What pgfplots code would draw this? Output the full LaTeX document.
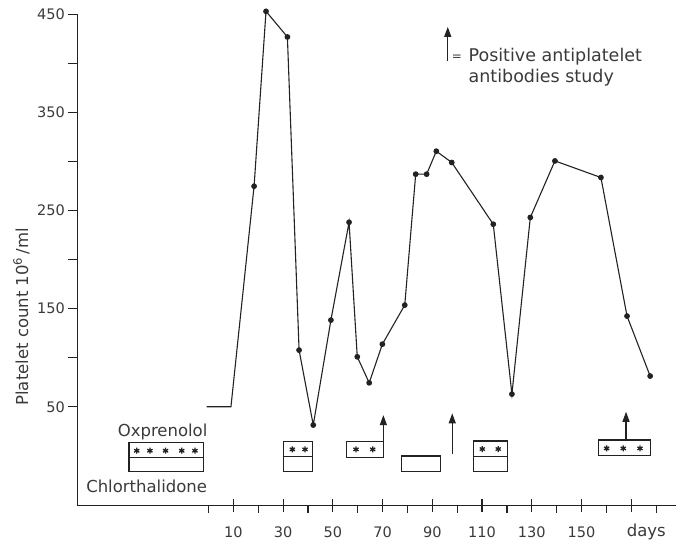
\documentclass[border=0pt]{standalone}
\usepackage{fontspec}
\setmainfont{DejaVu Sans}
\usepackage{pgfplots}
\pgfplotsset{compat=1.18}
\usetikzlibrary{arrows.meta}

\definecolor{ink}{HTML}{222222}
\definecolor{txt}{HTML}{3A3A3A}

\newcommand{\txtfont}{\fontsize{16.5}{19}\selectfont}

\begin{document}
\begin{tikzpicture}[x=1pt,y=1pt]
\useasboundingbox (0,0) rectangle (676,545);
\pgfplotsset{
  base/.style={
    at={(77.3pt,39.3pt)}, anchor=south west,
    scale only axis, width=598.7pt, height=491.7pt,
    xmin=-52.8, xmax=188, ymin=-50.8, ymax=450.2,
    clip=false,
    axis line style={draw=none},
    tick style={ink, line width=1.2pt},
    /pgf/number format/assume math mode=true,
    tick label style={font=\fontsize{14.5}{17}\selectfont, text=txt},
  }
}

% x axis, long ticks across the line at 10,30,...
\begin{axis}[base,
  ytick=\empty, xtick pos=left,
  xtick={10,30,...,150},
  xticklabels={10,30,50,70,90,110,130,150},
  extra x ticks={170},
  extra x tick labels={\hspace*{30pt}days},
  extra x tick style={xticklabel style={font=\txtfont, yshift=3pt}},
  tick align=center, major tick length=13pt,
  xticklabel style={yshift=-11pt},
]
\draw[ink, line width=1.1pt] (rel axis cs:0,0) -- (rel axis cs:1,0);
\end{axis}

% short ticks below the line at 0,20,...
\begin{axis}[base,
  ytick=\empty, xtick pos=left,
  xtick={0,20,...,180}, xticklabels={},
  tick align=outside, major tick length=7pt,
]
\end{axis}

% y axis ticks
\begin{axis}[base,
  xtick=\empty, ytick pos=left,
  ytick={50,100,...,450},
  yticklabels={50,,150,,250,,350,,450},
  tick align=outside, major tick length=9pt,
]
\draw[ink, line width=1.1pt] (rel axis cs:0,0) -- (rel axis cs:0,1);
\end{axis}

% data and treatment boxes
\begin{axis}[base, hide x axis, hide y axis]
% platelet count
\addplot[ink, line width=1.1pt, mark=*, mark size=2.3pt,
  mark options={fill=ink}, mark indices={3,...,24}] coordinates {
  (-0.8,50) (9,50) (18.3,274.7) (23.1,452.9) (31.7,426.8) (36.4,107.7)
  (42.1,31.4) (49.2,138.3) (56.5,238) (59.8,100.9) (64.6,74.4)
  (69.9,113.8) (78.9,153.6) (83.3,287) (87.7,287) (91.6,310.4)
  (97.8,298.9) (114.5,236) (122,62.9) (129.4,242.9) (139.3,300.5)
  (157.8,283.6) (168.3,142.4) (177.6,81.3)
};

% boxes: upper half oxprenolol, lower half chlorthalidone
\begin{scope}[ink, line width=1.1pt]
\draw (axis cs:-32,13.3) rectangle (axis cs:-2.1,-16.2);
\draw (axis cs:-32,-1.9) -- (axis cs:-2.1,-1.9);
\draw (axis cs:30.3,14.4) rectangle (axis cs:41.9,-16.2);
\draw (axis cs:30.3,-0.9) -- (axis cs:41.9,-0.9);
\draw (axis cs:55.5,14.4) rectangle (axis cs:70.3,-1.9);
\draw (axis cs:77.7,-0.2) rectangle (axis cs:93.1,-16.2);
\draw (axis cs:106.6,15.1) rectangle (axis cs:120.4,-16.2);
\draw (axis cs:106.6,-0.9) -- (axis cs:120.4,-0.9);
\draw (axis cs:156.8,16.1) rectangle (axis cs:177.6,0);
\end{scope}

\addplot[only marks, mark=asterisk, mark size=3pt, ink, line width=1.3pt]
  coordinates {
  (-28.9,5.2) (-23.6,5.2) (-17.3,5.2) (-10.8,5.2) (-5.5,5.2)
  (33.7,6.6) (38.8,6.6)
  (59.3,6.6) (66.0,6.6)
  (110.1,6.9) (116.5,6.9)
  (160.1,7.6) (166.8,7.6) (173.5,7.6)
};

% positive antiplatelet antibodies
\begin{scope}[ink, line width=1.2pt, -{Triangle[length=10pt,width=7pt]}]
\draw (axis cs:70.3,14.4) -- (axis cs:70.3,41.5);
\draw (axis cs:98.0,1.8) -- (axis cs:98.0,43.3);
\draw (axis cs:167.9,16.1) -- (axis cs:167.9,44.9);
\draw (axis cs:96.2,402) -- (axis cs:96.2,437);
\end{scope}

\node[font=\fontsize{12}{14}\selectfont, text=txt] at (axis cs:99.9,405.1) {=};
\node[font=\fontsize{17.5}{20}\selectfont, text=txt, anchor=base west, inner sep=0pt]
  at (axis cs:104.5,401.8) {Positive antiplatelet};
\node[font=\fontsize{17.5}{20}\selectfont, text=txt, anchor=base west, inner sep=0pt]
  at (axis cs:104.5,380.4) {antibodies study};

\node[font=\txtfont, text=txt] at (axis cs:-18.5,24.5) {Oxprenolol};
\node[font=\txtfont, text=txt] at (axis cs:-24.9,-30.8) {Chlorthalidone};

\node[font=\txtfont, text=txt, rotate=90]
  at (axis description cs:-0.0932,0.3838) {Platelet count 10\textsuperscript{6}\,/ml};
\end{axis}
\end{tikzpicture}
\end{document}
